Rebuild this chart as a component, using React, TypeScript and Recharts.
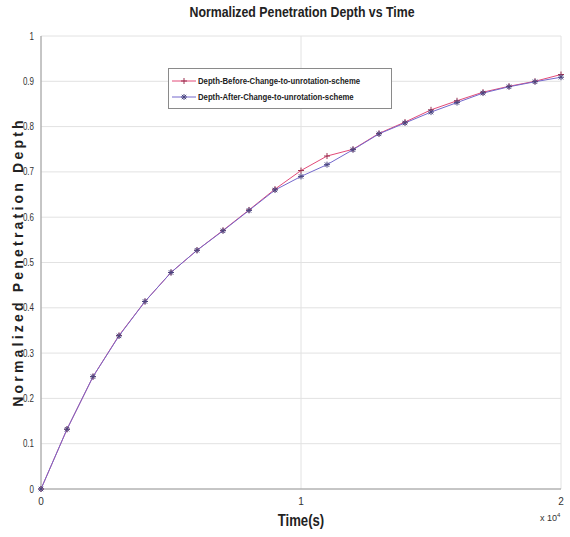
import React from "react";
import { LineChart, Line, XAxis, YAxis, CartesianGrid } from "recharts";

const timeValues = [0, 1000, 2000, 3000, 4000, 5000, 6000, 7000, 8000, 9000, 10000, 11000, 12000, 13000, 14000, 15000, 16000, 17000, 18000, 19000, 20000];
const depthBefore = [0, 0.132, 0.248, 0.339, 0.414, 0.478, 0.527, 0.571, 0.616, 0.662, 0.703, 0.735, 0.75, 0.785, 0.81, 0.837, 0.857, 0.876, 0.889, 0.9, 0.915];
const depthAfter = [0, 0.132, 0.248, 0.338, 0.414, 0.478, 0.527, 0.570, 0.615, 0.660, 0.690, 0.716, 0.749, 0.784, 0.808, 0.832, 0.853, 0.874, 0.888, 0.899, 0.909];
const seriesNames = ["Depth-Before-Change-to-unrotation-scheme", "Depth-After-Change-to-unrotation-scheme"];
const xTicks = [0, 10000, 20000];
const yTicks = [0, 0.1, 0.2, 0.3, 0.4, 0.5, 0.6, 0.7, 0.8, 0.9, 1];

const data = timeValues.map((t, i) => ({ t, before: depthBefore[i], after: depthAfter[i] }));

const C_BEFORE = "#e24a78";
const C_AFTER = "#7468cc";
const FONT = "'Liberation Sans', Arial, sans-serif";

const PlusDot = (props: any) => {
  const { cx, cy } = props;
  if (cx == null || cy == null) return null;
  return (
    <g stroke="#9a3050" strokeWidth={1}>
      <line x1={cx - 3} y1={cy} x2={cx + 3} y2={cy} />
      <line x1={cx} y1={cy - 3} x2={cx} y2={cy + 3} />
    </g>
  );
};

const StarDot = (props: any) => {
  const { cx, cy } = props;
  if (cx == null || cy == null) return null;
  return (
    <g stroke="#4a4680" strokeWidth={1}>
      <line x1={cx - 3} y1={cy} x2={cx + 3} y2={cy} />
      <line x1={cx} y1={cy - 3} x2={cx} y2={cy + 3} />
      <line x1={cx - 2.2} y1={cy - 2.2} x2={cx + 2.2} y2={cy + 2.2} />
      <line x1={cx - 2.2} y1={cy + 2.2} x2={cx + 2.2} y2={cy - 2.2} />
    </g>
  );
};

const YTick = (props: any) => {
  const { x, y, payload } = props;
  const v = payload.value as number;
  const label = v === 0 ? "0" : v === 1 ? "1" : v.toFixed(1);
  return (
    <g transform={`translate(${x},${y}) scale(0.8,1)`}>
      <text x={0} y={0} dy={3.5} textAnchor="end" fontSize={10} fill="#333" fontFamily={FONT}>{label}</text>
    </g>
  );
};

export default function App() {
  return (
    <div style={{ position: "absolute", left: 0, top: 0, width: 570, height: 537, background: "#fff" }}>
      <LineChart width={570} height={537} data={data} margin={{ top: 36, right: 9, bottom: 0, left: 8 }}>
        <CartesianGrid stroke="#e2e2e2" strokeWidth={1} />
        <XAxis
          dataKey="t"
          type="number"
          domain={[0, 20000]}
          ticks={xTicks}
          tickFormatter={(v: number) => String(v / 10000)}
          interval={0}
          height={48}
          stroke="#9a9a9a"
          tickLine={false}
          tick={{ fontSize: 10, fill: "#333", fontFamily: FONT }}
          tickMargin={3}
        />
        <YAxis
          type="number"
          domain={[0, 1]}
          ticks={yTicks}
          interval={0}
          width={33}
          stroke="#9a9a9a"
          tickLine={false}
          tick={<YTick />}
          tickMargin={1}
        />
        <Line
          dataKey="before"
          name={seriesNames[0]}
          stroke={C_BEFORE}
          strokeWidth={1}
          dot={<PlusDot />}
          isAnimationActive={false}
        />
        <Line
          dataKey="after"
          name={seriesNames[1]}
          stroke={C_AFTER}
          strokeWidth={1}
          dot={<StarDot />}
          isAnimationActive={false}
        />
      </LineChart>

      <div style={{ position: "absolute", left: 102, top: 4, width: 400, textAlign: "center", fontFamily: FONT, fontWeight: "bold", fontSize: 14, color: "#222", transform: "scaleX(0.88)", whiteSpace: "nowrap" }}>
        Normalized Penetration Depth vs Time
      </div>

      <div style={{ position: "absolute", left: 18, top: 262, width: 0, height: 0 }}>
        <div style={{ position: "absolute", left: -200, top: -10, width: 400, textAlign: "center", transform: "rotate(-90deg)", fontFamily: FONT, fontWeight: "bold", fontSize: 14, letterSpacing: 3.2, color: "#222", lineHeight: "20px", whiteSpace: "nowrap" }}>
          Normalized Penetration Depth
        </div>
      </div>

      <div style={{ position: "absolute", left: 251, top: 512, width: 100, textAlign: "center", fontFamily: FONT, fontWeight: "bold", fontSize: 16, color: "#222", transform: "scaleX(0.82)", whiteSpace: "nowrap" }}>
        Time(s)
      </div>

      <div style={{ position: "absolute", left: 540, top: 512, fontFamily: FONT, fontSize: 9, color: "#333", whiteSpace: "nowrap" }}>
        x 10<sup style={{ fontSize: 6 }}>4</sup>
      </div>

      <div style={{ position: "absolute", left: 168, top: 68, width: 224, height: 41, border: "1px solid #8a8a8a", background: "#fff", fontFamily: FONT, fontSize: 9, color: "#222", boxSizing: "border-box" }}>
        {seriesNames.map((name, i) => (
          <div key={name} style={{ position: "absolute", left: 3, top: 5 + i * 16, height: 14, display: "flex", alignItems: "center", whiteSpace: "nowrap" }}>
            <svg width={24} height={14} style={{ marginRight: 2, flex: "none" }}>
              <line x1={0} y1={7} x2={24} y2={7} stroke={i === 0 ? C_BEFORE : C_AFTER} strokeWidth={1} />
              {i === 0 ? <PlusDot cx={12} cy={7} /> : <StarDot cx={12} cy={7} />}
            </svg>
            <span style={{ fontWeight: "bold", display: "inline-block", transform: "scaleX(0.86)", transformOrigin: "left center" }}>{name}</span>
          </div>
        ))}
      </div>
    </div>
  );
}
